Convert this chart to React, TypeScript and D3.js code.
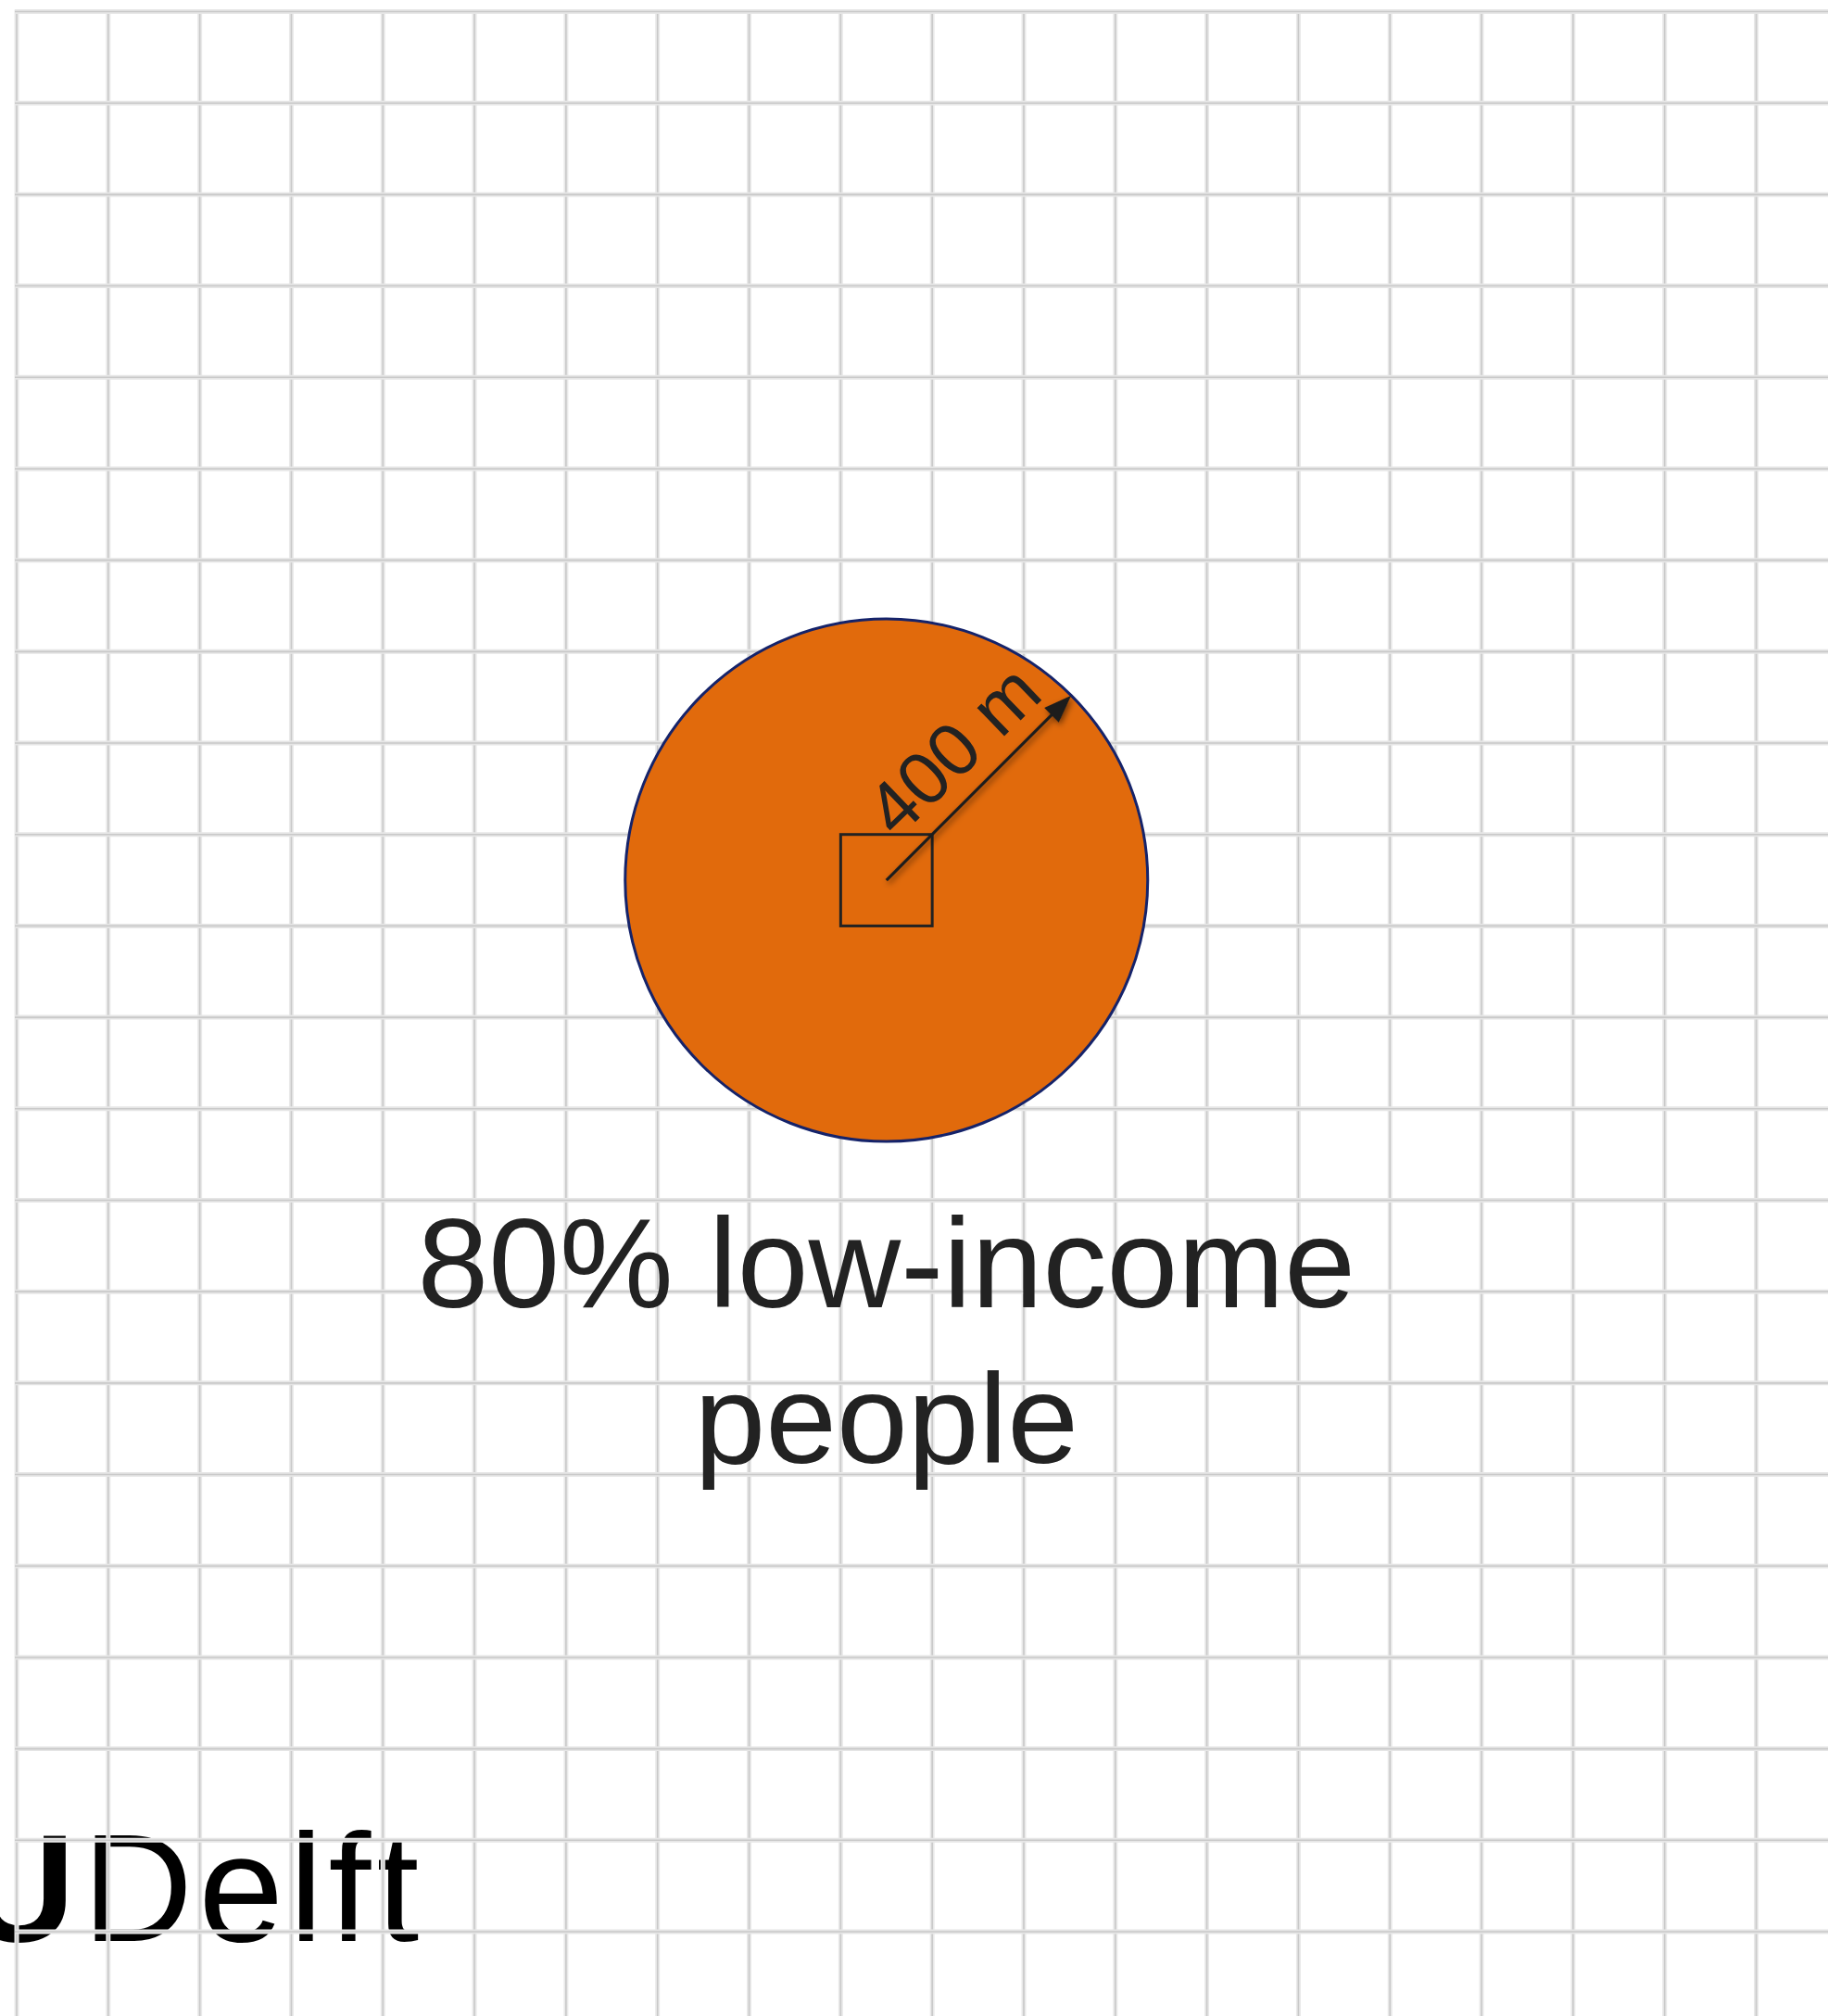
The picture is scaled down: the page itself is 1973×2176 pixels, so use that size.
import React from "react";
import * as d3 from "d3";

// ---- data ----
const shareLowIncome = [80];
const radiusMeters = [400];
const labelLines = ["80% low-income", "people"];
const radiusLabel = ["400 m"];
const logoBold = ["TU"];
const logoRegular = ["Delft"];
const gridColumnsIdx = [0, 1, 2, 3, 4, 5, 6, 7, 8, 9, 10, 11, 12, 13, 14, 15, 16, 17, 18, 19, 20];
const gridRowsIdx = [0, 1, 2, 3, 4, 5, 6, 7, 8, 9, 10, 11, 12, 13, 14, 15, 16, 17, 18, 19, 20, 21];
const stopCell = [9, 9];

const W = 1973;
const H = 2176;
const FONT = "'Liberation Sans', Arial, Helvetica, sans-serif";

export default function App() {
  const gx = d3.scaleLinear().domain([0, 19]).range([18, 1895.5]);
  const gy = d3.scaleLinear().domain([0, 21]).range([12.5, 2085]);
  const rScale = d3.scaleLinear().domain([0, 400]).range([0, 282]);

  const cx = (gx(stopCell[0]) + gx(stopCell[0] + 1)) / 2;
  const cy = (gy(stopCell[1]) + gy(stopCell[1] + 1)) / 2;
  const R = rScale(radiusMeters[0]);

  const ang = -Math.PI / 4;
  const ux = Math.cos(ang);
  const uy = Math.sin(ang);
  const nx = uy; // perpendicular (up-left)
  const ny = -ux;
  const tipX = cx + ux * R;
  const tipY = cy + uy * R;
  const headLen = 30;
  const headHalf = 11;
  const baseX = tipX - ux * headLen;
  const baseY = tipY - uy * headLen;
  const headPath = d3.path();
  headPath.moveTo(tipX, tipY);
  headPath.lineTo(baseX + nx * headHalf, baseY + ny * headHalf);
  headPath.lineTo(baseX - nx * headHalf, baseY - ny * headHalf);
  headPath.closePath();

  const along = 150;
  const off = 21;
  const lblX = cx + ux * along + nx * off;
  const lblY = cy + uy * along + ny * off;

  return (
    <svg
      width={W}
      height={H}
      style={{ position: "absolute", left: 0, top: 0, display: "block", background: "#ffffff" }}
    >
      <defs>
        <filter id="shadow" x="-20%" y="-20%" width="140%" height="140%">
          <feDropShadow dx="2" dy="3" stdDeviation="3" floodColor="#000" floodOpacity="0.5" />
        </filter>
      </defs>
      <rect x={0} y={0} width={W} height={H} fill="#ffffff" />

      {/* logo */}
      <text x={81} y={2095} fontFamily={FONT} fontWeight="bold" fontSize={165} textAnchor="end" fill="#000">
        {logoBold[0]}
      </text>
      <text x={89} y={2095} fontFamily={FONT} fontSize={165} letterSpacing={6} fill="#000">
        {logoRegular[0]}
      </text>

      {/* grid */}
      <g>
        {gridColumnsIdx.map((i) => (
          <g key={"v" + i}>
            <line x1={gx(i)} x2={gx(i)} y1={gy(0) - 2} y2={H} stroke="#e9e9e9" strokeWidth={5} />
            <line x1={gx(i)} x2={gx(i)} y1={gy(0) - 2} y2={H} stroke="#c9c9c9" strokeWidth={1.6} />
          </g>
        ))}
        {gridRowsIdx.map((j) => (
          <g key={"h" + j}>
            <line x1={gx(0) - 2} x2={W} y1={gy(j)} y2={gy(j)} stroke="#e6e6e6" strokeWidth={5} />
            <line x1={gx(0) - 2} x2={W} y1={gy(j)} y2={gy(j)} stroke="#c9c9c9" strokeWidth={1.6} />
          </g>
        ))}
      </g>

      {/* catchment circle */}
      <circle cx={cx} cy={cy} r={R} fill="#e16a0c" stroke="#15236a" strokeWidth={3} />

      {/* stop square */}
      <rect
        x={gx(stopCell[0])}
        y={gy(stopCell[1])}
        width={gx(stopCell[0] + 1) - gx(stopCell[0])}
        height={gy(stopCell[1] + 1) - gy(stopCell[1])}
        fill="none"
        stroke="#222"
        strokeWidth={3}
      />

      {/* radius arrow */}
      <g filter="url(#shadow)">
        <line x1={cx} y1={cy} x2={baseX + ux * 2} y2={baseY + uy * 2} stroke="#1f1f1f" strokeWidth={3.2} />
        <path d={headPath.toString()} fill="#1f1f1f" />
      </g>
      <text
        x={lblX}
        y={lblY}
        transform={`rotate(-44 ${lblX} ${lblY})`}
        fontFamily={FONT}
        fontSize={80}
        textAnchor="middle"
        fill="#222"
      >
        {radiusLabel[0]}
      </text>

      {/* caption */}
      <text x={cx} y={1411} fontFamily={FONT} fontSize={138} textAnchor="middle" fill="#222">
        {`${shareLowIncome[0]}% low-income`}
      </text>
      <text x={cx} y={1579} fontFamily={FONT} fontSize={138} textAnchor="middle" fill="#222">
        {labelLines[1]}
      </text>
    </svg>
  );
}
